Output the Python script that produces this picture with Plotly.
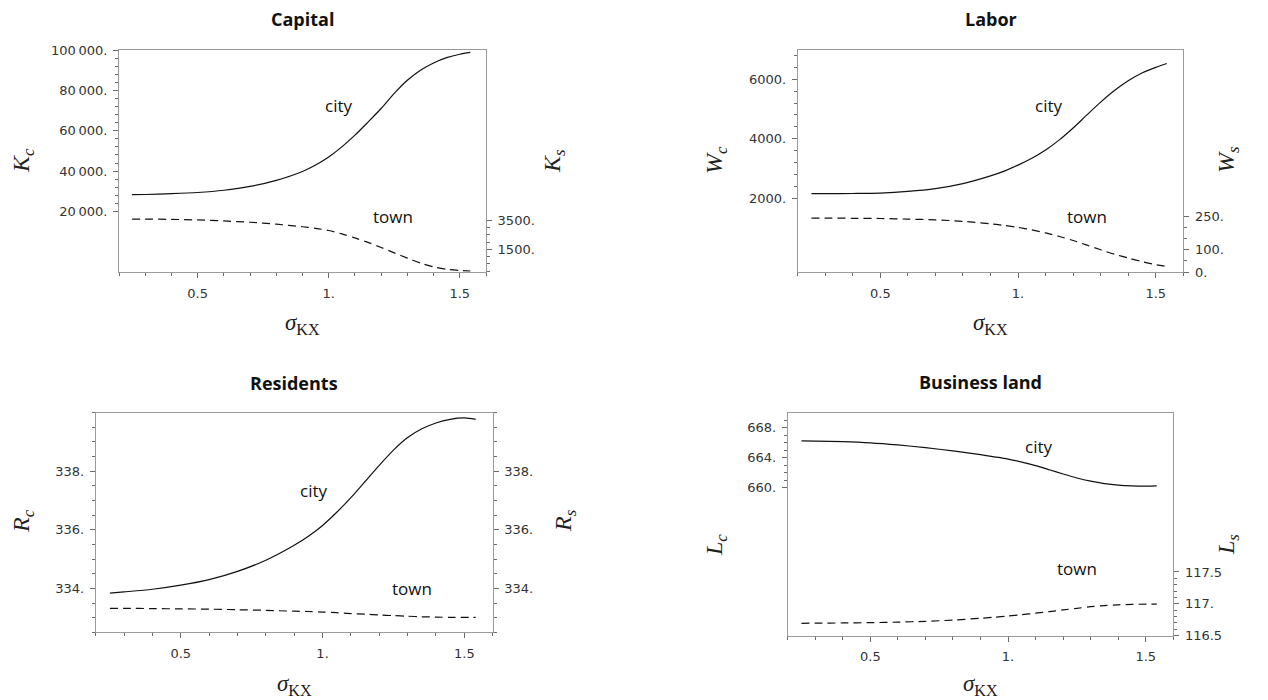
import plotly.graph_objects as go

# ---------------- data ----------------
sigma = [0.25, 0.3, 0.4, 0.5, 0.6, 0.7, 0.8, 0.9, 0.95, 1.0, 1.05, 1.1, 1.15, 1.2, 1.25, 1.3, 1.35, 1.4, 1.45, 1.5, 1.54]

capital_city = [28300, 28400, 28800, 29400, 30500, 32400, 35400, 39800, 43000, 47000, 52000, 57800, 64300,
                71000, 78500, 85000, 90000, 93600, 96200, 97900, 98800]
capital_town = [3590, 3588, 3570, 3530, 3460, 3370, 3240, 3060, 2950, 2800, 2570, 2290, 1980,
                1630, 1260, 900, 560, 290, 130, 50, 10]

labor_city = [2150, 2150, 2155, 2170, 2225, 2320, 2490, 2750, 2910, 3110, 3340, 3620, 3960,
              4360, 4800, 5230, 5620, 5950, 6210, 6400, 6530]
labor_town = [243, 243, 242, 241, 238, 235, 228, 217, 210, 201, 190, 176, 160,
              142, 121, 100, 80, 63, 47, 33, 25]

residents_city = [333.84, 333.88, 333.97, 334.11, 334.30, 334.58, 334.96, 335.47, 335.78, 336.15, 336.60, 337.10, 337.65,
                  338.20, 338.72, 339.15, 339.45, 339.65, 339.77, 339.82, 339.77]
residents_town = [333.32, 333.32, 333.31, 333.30, 333.29, 333.27, 333.25, 333.22, 333.21, 333.19, 333.17, 333.14, 333.12,
                  333.09, 333.07, 333.05, 333.03, 333.02, 333.01, 333.01, 333.01]

land_city = [666.24, 666.22, 666.14, 665.98, 665.70, 665.34, 664.90, 664.40, 664.12, 663.82, 663.42, 662.95, 662.40,
             661.83, 661.30, 660.87, 660.55, 660.35, 660.25, 660.22, 660.25]
land_town = [116.695, 116.697, 116.700, 116.705, 116.713, 116.726, 116.745, 116.774, 116.790, 116.810, 116.830, 116.853, 116.878,
             116.905, 116.930, 116.955, 116.972, 116.985, 116.992, 116.995, 116.995]

x_tickvals = [0.5, 1.0, 1.5]
x_ticktext = ["0.5", "1.", "1.5"]

capital_left_vals = [20000, 40000, 60000, 80000, 100000]
capital_left_text = ["20\u2009000.", "40\u2009000.", "60\u2009000.", "80\u2009000.", "100\u2009000."]
capital_right_vals = [1500, 3500]
capital_right_text = ["1500.", "3500."]

labor_left_vals = [2000, 4000, 6000]
labor_left_text = ["2000.", "4000.", "6000."]
labor_right_vals = [0, 100, 250]
labor_right_text = ["0.", "100.", "250."]

residents_vals = [334, 336, 338]
residents_text = ["334.", "336.", "338."]

land_left_vals = [660, 664, 668]
land_left_text = ["660.", "664.", "668."]
land_right_vals = [116.5, 117.0, 117.5]
land_right_text = ["116.5", "117.", "117.5"]

titles = ["Capital", "Labor", "Residents", "Business land"]

# ---------------- layout helpers ----------------
PAGE_W, PAGE_H = 1268, 700
OFF = 8                      # default body margin of the html page
W, H = PAGE_W - OFF, PAGE_H - OFF
FRAME = "#9a9a9a"
TICKC = "#6a6a6a"
TICKFONT = dict(family="DejaVu Sans", size=13, color="#333333")


def frange(a, b, step):
    n = int(round((b - a) / step))
    return [round(a + i * step, 6) for i in range(n + 1)]


def px(x):
    return (x - OFF) / W


def py(y):
    return 1 - (y - OFF) / H


panels = [
    dict(title=titles[0], xd=(119, 486), yd=(50, 272), yr=(-10000, 100000), y2r=(-60, 15250),
         city=capital_city, town=capital_town,
         lv=capital_left_vals, lt=capital_left_text, lm=frange(20000, 100000, 4000),
         rv=capital_right_vals, rt=capital_right_text, rm=frange(0, 3500, 500),
         ylab="K", ysub=("c", "s"), ylx=(23, 554), yly=161,
         city_xy=(338, 105), town_xy=(393, 216), title_y=19, sig_y=324),
    dict(title=titles[1], xd=(797.7, 1183.3), yd=(50, 272), yr=(-487, 6985), y2r=(0, 1000),
         city=labor_city, town=labor_town,
         lv=labor_left_vals, lt=labor_left_text, lm=frange(2000, 6800, 400),
         rv=labor_right_vals, rt=labor_right_text, rm=frange(0, 250, 50),
         ylab="W", ysub=("c", "s"), ylx=(716, 1228), yly=160,
         city_xy=(1048, 105), town_xy=(1087, 216), title_y=19, sig_y=324),
    dict(title=titles[2], xd=(95.7, 492.7), yd=(412.7, 632.3), yr=(332.5, 340), y2r=(332.5, 340),
         city=residents_city, town=residents_town,
         lv=residents_vals, lt=residents_text, lm=frange(332.5, 340, 0.5),
         rv=residents_vals, rt=residents_text, rm=frange(332.5, 340, 0.5),
         ylab="R", ysub=("c", "s"), ylx=(23, 565), yly=521,
         city_xy=(313, 490), town_xy=(412, 588), title_y=383, sig_y=685),
    dict(title=titles[3], xd=(787.7, 1173.3), yd=(412.7, 635.7), yr=(640.27, 670), y2r=(116.5, 120),
         city=land_city, town=land_town,
         lv=land_left_vals, lt=land_left_text, lm=frange(660, 669, 1),
         rv=land_right_vals, rt=land_right_text, rm=frange(116.5, 117.5, 0.1),
         ylab="L", ysub=("c", "s"), ylx=(716, 1228), yly=545,
         city_xy=(1038, 446), town_xy=(1077, 568), title_y=382, sig_y=685),
]

fig = go.Figure()
annotations = []
layout_axes = {}

for i, p in enumerate(panels):
    xi = i + 1
    yl = 2 * i + 1
    yr_ = 2 * i + 2
    xname = "x" if xi == 1 else f"x{xi}"
    ylname = "y" if yl == 1 else f"y{yl}"
    yrname = f"y{yr_}"

    xdom = [px(p["xd"][0]), px(p["xd"][1])]
    ydom = [py(p["yd"][1]), py(p["yd"][0])]

    layout_axes["xaxis" if xi == 1 else f"xaxis{xi}"] = dict(
        domain=xdom, anchor=ylname, range=[0.2, 1.6], automargin=False,
        showgrid=False, zeroline=False, showline=True, linecolor=FRAME, linewidth=1,
        mirror=True, ticks="outside", ticklen=5, tickwidth=1, tickcolor=TICKC,
        tickmode="array", tickvals=x_tickvals, ticktext=x_ticktext,
        tickfont=TICKFONT, ticklabelstandoff=4,
        minor=dict(tickmode="array", tickvals=frange(0.2, 1.6, 0.1), ticks="outside",
                   ticklen=3, tickwidth=1, tickcolor=TICKC),
        fixedrange=True,
    )
    layout_axes["yaxis" if yl == 1 else f"yaxis{yl}"] = dict(
        domain=ydom, anchor=xname, range=list(p["yr"]), automargin=False,
        showgrid=False, zeroline=False, showline=True, linecolor=FRAME, linewidth=1,
        ticks="outside", ticklen=5, tickwidth=1, tickcolor=TICKC,
        tickmode="array", tickvals=p["lv"], ticktext=p["lt"],
        tickfont=TICKFONT, ticklabelstandoff=3,
        minor=dict(tickmode="array", tickvals=p["lm"], ticks="outside",
                   ticklen=3, tickwidth=1, tickcolor=TICKC),
        fixedrange=True,
    )
    layout_axes[f"yaxis{yr_}"] = dict(
        domain=ydom, anchor=xname, overlaying=ylname, side="right", range=list(p["y2r"]),
        automargin=False,
        showgrid=False, zeroline=False, showline=True, linecolor=FRAME, linewidth=1,
        ticks="outside", ticklen=5, tickwidth=1, tickcolor=TICKC,
        tickmode="array", tickvals=p["rv"], ticktext=p["rt"],
        tickfont=TICKFONT, ticklabelstandoff=3,
        minor=dict(tickmode="array", tickvals=p["rm"], ticks="outside",
                   ticklen=3, tickwidth=1, tickcolor=TICKC),
        fixedrange=True,
    )

    fig.add_trace(go.Scatter(x=sigma, y=p["city"], mode="lines", xaxis=xname, yaxis=ylname,
                             line=dict(color="#111111", width=1.2, shape="spline", smoothing=0.8),
                             hoverinfo="skip", showlegend=False))
    fig.add_trace(go.Scatter(x=sigma, y=p["town"], mode="lines", xaxis=xname, yaxis=yrname,
                             line=dict(color="#111111", width=1.2, dash="8px,5px", shape="spline", smoothing=0.8),
                             hoverinfo="skip", showlegend=False))

    cx = (p["xd"][0] + p["xd"][1]) / 2
    annotations.append(dict(x=px(cx), y=py(p["title_y"]), xref="paper", yref="paper",
                            text=f"<b>{p['title']}</b>", showarrow=False, xanchor="center", yanchor="middle",
                            font=dict(family="Open Sans", size=18, color="#111111")))
    annotations.append(dict(x=px(cx), y=py(p["sig_y"]), xref="paper", yref="paper",
                            text="<i>σ</i><sub>KX</sub>", showarrow=False, xanchor="center", yanchor="middle",
                            font=dict(family="Liberation Serif", size=23, color="#222222")))
    for k in range(2):
        annotations.append(dict(x=px(p["ylx"][k]), y=py(p["yly"]), xref="paper", yref="paper",
                                text=f"<i>{p['ylab']}</i><sub><i>{p['ysub'][k]}</i></sub>",
                                showarrow=False, textangle=-90, xanchor="center", yanchor="middle",
                                font=dict(family="Liberation Serif", size=24, color="#222222")))
    annotations.append(dict(x=px(p["city_xy"][0]), y=py(p["city_xy"][1]), xref="paper", yref="paper",
                            text="city", showarrow=False, xanchor="center", yanchor="middle",
                            font=dict(family="Open Sans", size=17, color="#111111")))
    annotations.append(dict(x=px(p["town_xy"][0]), y=py(p["town_xy"][1]), xref="paper", yref="paper",
                            text="town", showarrow=False, xanchor="center", yanchor="middle",
                            font=dict(family="Open Sans", size=17, color="#111111")))

fig.update_layout(
    width=W, height=H, margin=dict(l=0, r=0, t=0, b=0, autoexpand=False),
    paper_bgcolor="white", plot_bgcolor="white",
    showlegend=False, hovermode=False,
    annotations=annotations,
    **layout_axes,
)

fig.write_html("out.html")
